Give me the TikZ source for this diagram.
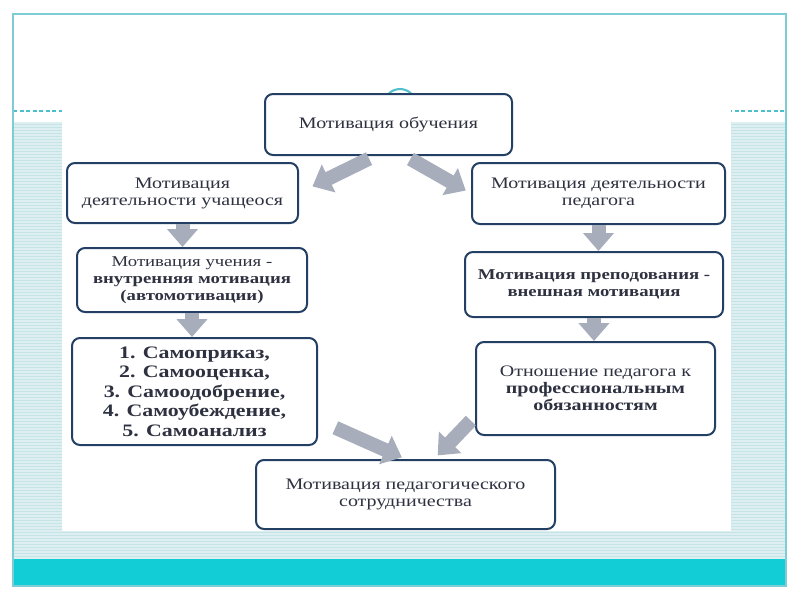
\documentclass[tikz,border=0pt]{standalone}
\usepackage{fontspec}
\setmainfont[FakeStretch=1.25]{Liberation Serif}
\usepackage{tikz}
\usetikzlibrary{arrows.meta}
\definecolor{boxline}{HTML}{233F63}
\definecolor{arrowgray}{HTML}{A7ADBA}
\definecolor{slideteal}{HTML}{7FCDD4}
\definecolor{ringteal}{HTML}{4DBFCB}
\definecolor{bandcyan}{HTML}{12CDD6}
\definecolor{stripe}{HTML}{C6E3E7}
\definecolor{stripelight}{HTML}{DDEFF1}
\definecolor{textgray}{HTML}{2E3140}

\begin{document}
\begin{tikzpicture}[x=1pt, y=-1pt,
    box/.style={draw=boxline, line width=2pt, rounded corners=8pt, fill=white,
        align=center, text=textgray, font=\fontsize{16}{17}\selectfont},
    fat/.style={arrowgray, line width=14pt, -{Triangle[width=30pt, length=18pt]}}]
            % slide background
            \useasboundingbox (0,0) rectangle (800,600);
            \fill[white] (0,0) rectangle (800,600);
            \fill[stripe] (13,122) rectangle (786,559);
            \foreach \y in {123,126,...,558}
                \draw[stripelight, line width=1.2pt] (13,\y) -- (786,\y);
            \draw[ringteal, line width=1.2pt, dash pattern=on 4pt off 2.5pt] (13,111) -- (786,111);
            \draw[ringteal, line width=2pt, fill=white] (400,105) circle[radius=16pt];
            \fill[white] (62,93) rectangle (731,531);
            \fill[bandcyan] (13,559) rectangle (786,586);
            \draw[slideteal, line width=1.5pt] (13,14) rectangle (786,586);

            \node[box, minimum width=247, minimum height=61] (T) at (388.5, 124.5) {Мотивация обучения};
            \node[box, minimum width=231, minimum height=60] (L1) at (182.5, 193) {Мотивация\\деятельности учащеося};
            \node[box, minimum width=230, minimum height=64, font=\fontsize{15}{17}\selectfont] (L2) at (192, 280) {Мотивация учения -\\\textbf{внутренняя мотивация}\\\textbf{(автомотивации)}};
            \node[box, minimum width=245, minimum height=107, font=\fontsize{17.5}{19.5}\selectfont\bfseries] (L3) at (194.5, 391.5) {1. Самоприказ,\\2. Самооценка,\\3. Самоодобрение,\\4. Самоубеждение,\\5. Самоанализ};
            \node[box, minimum width=253, minimum height=61] (R1) at (598.5, 193.5) {Мотивация деятельности\\педагога};
            \node[box, minimum width=258, minimum height=65, font=\fontsize{15}{17}\selectfont\bfseries] (R2) at (594, 284.5) {Мотивация преподования -\\внешная мотивация};
            \node[box, minimum width=239, minimum height=93] (R3) at (595.5, 388.5) {Отношение педагога к\\\textbf{профессиональным}\\\textbf{обязанностям}};
            \node[box, minimum width=299, minimum height=69] (S) at (405.5, 494.5) {Мотивация педагогического\\сотрудничества};

            \path [fat, shorten <=6pt, shorten >=15pt] (T.246) edge (L1.east);
            \path [fat, shorten <=6pt, shorten >=6pt] (T.298) edge (R1.west);

            \path [fat] (L1.south) edge (L1.south |- L2.north);
            \path [fat] (L2.south) edge (L2.south |- L3.north);

            \path [fat] (R1.south) edge (R1.south |- R2.north);
            \path [fat] (R2.south) edge (R2.south |- R3.north);

            \path [fat, shorten <=19pt, shorten >=4pt] (L3.347) edge (S.north);
            \path [fat, shorten <=6pt, shorten >=5pt] (R3.193) edge (S.51);
        \end{tikzpicture}
\end{document}
